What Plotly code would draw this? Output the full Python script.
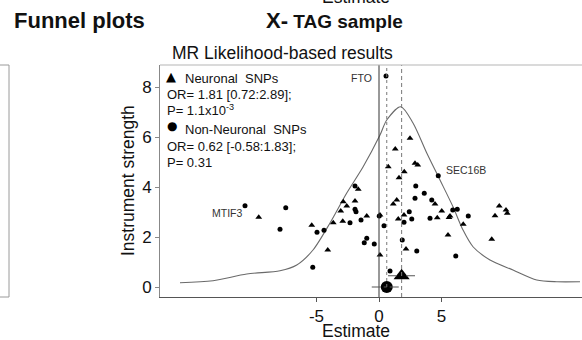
import plotly.graph_objects as go

# ---------------- data ----------------
# Neuronal SNPs (triangles): estimate, instrument strength
neu_est = [2.48, 1.30, 0.74, 2.88, 3.10, 2.02, 1.60, -1.66, 4.48, 1.42, 1.14, -2.86,
           -2.58, -1.92, -3.06, 2.00, 0.08, -0.98, -2.90, -3.66, 1.54, 4.66, 5.02,
           5.68, 5.60, 6.74, 9.62, 9.28, 10.16, 10.26, 9.02, 2.16, 0.08, 5.52, -4.10,
           -9.62, -5.38]
neu_str = [5.95, 5.52, 4.81, 4.95, 4.88, 4.61, 4.37, 3.91, 3.32, 3.48, 3.32, 3.41,
           3.24, 3.44, 3.04, 2.88, 2.88, 2.84, 2.63, 2.57, 2.72, 2.77, 3.04,
           2.84, 2.78, 2.51, 3.24, 2.85, 3.08, 2.95, 1.91, 1.52, 1.28, 2.08, 1.48,
           2.79, 2.47]

# Non-neuronal SNPs (dots)
non_est = [0.56, 4.74, -1.92, 2.94, 3.62, 4.22, 2.88, -1.92, -1.84, 2.42, -1.44, -2.32,
           2.62, 2.00, 4.08, 5.90, 6.26, 7.14, 0.40, 1.86, -0.98, -1.18, -0.38, 3.02,
           6.14, 0.88, -10.72, -7.46, -7.92, -4.96, -4.40, -5.30, 0.02]
non_str = [8.44, 4.45, 4.04, 4.04, 3.75, 3.48, 3.55, 3.11, 3.01, 3.01, 2.68, 2.57,
           2.72, 2.59, 2.75, 3.08, 3.11, 2.84, 2.45, 1.88, 1.95, 1.77, 1.72, 1.44,
           1.24, 0.64, 3.25, 3.17, 2.31, 2.19, 2.27, 0.79, 2.84]

# Funnel (density) curve
curve_est = [-15.92, -13.28, -10.58, -7.92, -6.58, -5.28, -3.92, -2.58, -1.28, 0.08,
             0.62, 1.74, 2.72, 3.82, 4.88, 5.92, 6.72, 7.52, 8.88, 10.72, 12.62,
             14.22, 16.08]
curve_str = [0.17, 0.25, 0.52, 0.65, 0.88, 1.48, 2.56, 3.76, 4.80, 6.08,
             6.68, 7.21, 6.56, 5.36, 4.28, 3.21, 2.28, 1.61, 1.08, 0.68, 0.28,
             0.21, 0.21]

# Pooled estimates: [Non-Neuronal, Neuronal]
pooled_est = [0.62, 1.81]
pooled_lo = [-0.58, 0.72]
pooled_hi = [1.83, 2.89]
pooled_y = [0.0, 0.45]

# Labelled SNPs
lab_names = ["FTO", "SEC16B", "MTIF3"]
lab_est = [0.56, 4.74, -10.72]
lab_str = [8.44, 4.45, 3.25]

x_ticks = [-5, 0, 5]
y_ticks = [0, 2, 4, 6, 8]

legend_lines = ["Neuronal  SNPs", "OR= 1.81 [0.72:2.89];", "P= 1.1x10<sup>-3</sup>",
                "Non-Neuronal  SNPs", "OR= 0.62 [-0.58:1.83];", "P= 0.31"]

# ---------------- layout constants ----------------
W, H = 582, 340
ML, MR, MT, MB = 160, 0, 65, 43
XR = [-17.52, 16.24]
YR = [-0.4, 8.88]
PW, PH = W - ML - MR, H - MT - MB
FONT = "Liberation Sans, Arial, sans-serif"


def px(p):
    return (p - ML) / PW


def py(p):
    return (H - MB - p) / PH


fig = go.Figure()

# funnel curve
fig.add_trace(go.Scatter(x=curve_est, y=curve_str, mode="lines",
                         line=dict(color="#6a6a6a", width=1.1, shape="spline", smoothing=0.8),
                         hoverinfo="skip"))

# points
fig.add_trace(go.Scatter(x=neu_est, y=neu_str, mode="markers",
                         marker=dict(symbol="triangle-up", size=6, color="black"),
                         name="Neuronal"))
fig.add_trace(go.Scatter(x=non_est, y=non_str, mode="markers",
                         marker=dict(symbol="circle", size=5, color="black"),
                         name="Non-Neuronal"))

# vertical reference lines
shapes = []
shapes.append(dict(type="line", xref="x", yref="y", x0=0, x1=0, y0=YR[0], y1=YR[1],
                   line=dict(color="#333333", width=1)))
shapes.append(dict(type="line", xref="x", yref="y", x0=pooled_est[0], x1=pooled_est[0],
                   y0=pooled_y[0], y1=YR[1], line=dict(color="#777777", width=1, dash="dot")))
shapes.append(dict(type="line", xref="x", yref="y", x0=pooled_est[1], x1=pooled_est[1],
                   y0=YR[0], y1=YR[1], line=dict(color="#777777", width=1, dash="4px,3px")))
# CI lines
shapes.append(dict(type="line", xref="x", yref="y", x0=pooled_lo[0], x1=pooled_hi[0],
                   y0=pooled_y[0], y1=pooled_y[0], line=dict(color="#555555", width=1, dash="dashdot")))
shapes.append(dict(type="line", xref="x", yref="y", x0=pooled_lo[1], x1=pooled_hi[1],
                   y0=pooled_y[1], y1=pooled_y[1], line=dict(color="#555555", width=1, dash="dash")))
# top border of the plot
shapes.append(dict(type="line", xref="paper", yref="paper", x0=0, x1=1, y0=1, y1=1,
                   line=dict(color="#b5b5b5", width=1)))
# left neighbouring panel frame (cropped)
shapes.append(dict(type="path", xref="paper", yref="paper",
                   path=f"M {px(-5)} {py(65)} L {px(9)} {py(65)} L {px(9)} {py(297)} L {px(-5)} {py(297)}",
                   line=dict(color="#9a9a9a", width=1)))

fig.add_trace(go.Scatter(x=[pooled_est[0]], y=[pooled_y[0]], mode="markers",
                         marker=dict(symbol="circle", size=12, color="black")))
fig.add_trace(go.Scatter(x=[pooled_est[1]], y=[pooled_y[1]], mode="markers",
                         marker=dict(symbol="triangle-up", size=14, color="black")))

ann = []
# SNP labels
lab_shift = [(-12, -2, "right"), (6, 6, "left"), (-1, -7, "right")]
for n, xe, ys, (xs, yss, anc) in zip(lab_names, lab_est, lab_str, lab_shift):
    ann.append(dict(x=xe, y=ys, xref="x", yref="y", text=n, showarrow=False,
                    xanchor=anc, yanchor="middle", xshift=xs, yshift=yss,
                    font=dict(size=10.5, color="#333333", family=FONT)))

# legend block
leg_pos = [(183, 79), (165, 94), (165, 110), (183, 129), (165, 146), (165, 162)]
for t, (lx, ly) in zip(legend_lines, leg_pos):
    ann.append(dict(x=px(lx), y=py(ly), xref="paper", yref="paper", text=t, showarrow=False,
                    xanchor="left", yanchor="middle", font=dict(size=13, color="#111111", family=FONT)))
ann.append(dict(x=px(171), y=py(76), xref="paper", yref="paper", text="▲", showarrow=False,
                xanchor="center", yanchor="middle", font=dict(size=13, color="black", family="DejaVu Sans")))
ann.append(dict(x=px(172), y=py(126), xref="paper", yref="paper", text="●", showarrow=False,
                xanchor="center", yanchor="middle", font=dict(size=12, color="black", family="DejaVu Sans")))

# titles
ann.append(dict(x=px(12), y=py(21), xref="paper", yref="paper", text="<b>Funnel plots</b>",
                showarrow=False, xanchor="left", yanchor="middle",
                font=dict(size=22, color="#111111", family=FONT)))
ann.append(dict(x=px(334), y=py(21), xref="paper", yref="paper",
                text="<b><span style='font-size:22px'>X-</span> TAG sample</b>",
                showarrow=False, xanchor="center", yanchor="middle",
                font=dict(size=19, color="#111111", family=FONT)))
ann.append(dict(x=px(356), y=py(-3), xref="paper", yref="paper", text="Estimate",
                showarrow=False, xanchor="center", yanchor="middle",
                font=dict(size=17.5, color="#111111", family=FONT)))
ann.append(dict(x=px(282), y=py(53), xref="paper", yref="paper", text="MR Likelihood-based results",
                showarrow=False, xanchor="center", yanchor="middle",
                font=dict(size=17.5, color="#111111", family=FONT)))
# axis titles
ann.append(dict(x=px(356), y=py(330.5), xref="paper", yref="paper", text="Estimate",
                showarrow=False, xanchor="center", yanchor="middle", borderpad=0,
                font=dict(size=17.5, color="#111111", family=FONT)))
ann.append(dict(x=px(128), y=py(181), xref="paper", yref="paper", text="Instrument strength",
                showarrow=False, xanchor="center", yanchor="middle", textangle=-90,
                font=dict(size=17.5, color="#111111", family=FONT)))

fig.update_layout(
    width=W, height=H, margin=dict(l=ML, r=MR, t=MT, b=MB, pad=0),
    paper_bgcolor="white", plot_bgcolor="white", showlegend=False,
    font=dict(family=FONT, size=17, color="#111111"),
    shapes=shapes, annotations=ann,
    xaxis=dict(range=XR, tickvals=x_ticks, ticktext=[str(v) for v in x_ticks],
               showgrid=False, zeroline=False, showline=True, linecolor="#555555",
               linewidth=1, ticks="outside", ticklen=4, tickcolor="#555555",
               tickfont=dict(size=17)),
    yaxis=dict(range=YR, tickvals=y_ticks, ticktext=[str(v) for v in y_ticks],
               showgrid=False, zeroline=False, showline=True, linecolor="#888888",
               linewidth=1, ticks="outside", ticklen=4, tickcolor="#888888",
               tickfont=dict(size=17)),
)

fig.write_html("out.html")
